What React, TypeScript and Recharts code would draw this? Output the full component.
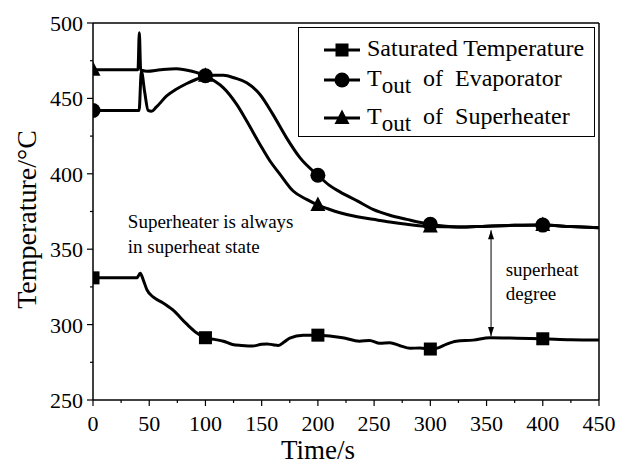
import React from "react";
import {
  LineChart,
  Line,
  XAxis,
  YAxis,
  Legend,
  ReferenceLine,
  ReferenceDot,
  Label,
} from "recharts";

const FONT = '"Liberation Serif", "Times New Roman", serif';

// time axis (s) and readings (°C) for each curve
const satTime = [0, 10, 20, 30, 39, 42, 45, 48, 54, 62, 71, 83, 92, 100, 108, 116, 124, 132, 142, 150, 155, 160, 165, 170, 175, 187, 200, 212, 222, 237, 246, 255, 264, 273, 282, 291, 300, 307, 314, 323, 338, 353, 377, 400, 425, 450];
const satTemp = [331, 331, 331, 331, 331, 334, 329, 323, 318, 314.5, 309.7, 300.6, 294.6, 291.3, 290.2, 289, 286.8, 286.2, 285.8, 287, 287.2, 286.6, 286.2, 288.5, 291, 292.9, 293, 292.3, 291.3, 289, 289.5, 287.6, 288, 286, 284.3, 284.5, 283.8, 284.6, 286.9, 289, 289.7, 291.3, 291, 290.6, 290, 289.8];

const evapTime = [0, 10, 20, 30, 41, 43, 46, 49, 52, 56, 65.5, 74, 83, 92, 100, 108, 116, 126, 136.7, 148.5, 160, 172, 184, 200, 210, 219.6, 235, 249, 264, 279, 300, 325, 350, 375, 400, 425, 450];
const evapTemp = [442, 442, 442, 442, 442, 468, 454, 442, 441.5, 444, 451.6, 456, 459.7, 462.7, 465, 465.4, 465.3, 463.5, 460.4, 452.6, 439.4, 424, 410.7, 399, 392.5, 388, 382, 376.4, 372.5, 369.8, 366.5, 364.7, 365.3, 365.8, 366, 365, 364.3];

const supTime = [0, 10, 20, 30, 40, 41.2, 42.4, 44, 48, 60, 74, 88, 100, 108, 116, 127.8, 136.7, 148.5, 157.4, 166, 178, 190, 200, 210, 219.6, 235, 249, 264, 279, 300, 325, 350, 375, 400, 425, 450];
const supTemp = [469, 469, 469, 469, 469, 493.5, 469, 468.5, 468, 469, 469.7, 468, 465, 461.5, 457, 446, 435, 419.5, 408.5, 400, 388.6, 383, 379.3, 376.5, 374.2, 371.5, 369.8, 368, 366.5, 365, 364.7, 365.3, 365.8, 366, 365, 364.3];

const markerTimes = [0, 100, 200, 300, 400];
const xTicks = [0, 25, 50, 75, 100, 125, 150, 175, 200, 225, 250, 275, 300, 325, 350, 375, 400, 425, 450];
const yTicks = [250, 275, 300, 325, 350, 375, 400, 425, 450, 475, 500];

const seriesNames = ["Saturated Temperature", "of  Evaporator", "of  Superheater"];

const toRows = (ts: number[], vs: number[]) => ts.map((t, i) => ({ t, v: vs[i] }));
const satData = toRows(satTime, satTemp);
const evapData = toRows(evapTime, evapTemp);
const supData = toRows(supTime, supTemp);

// superheat degree arrow
const arrowAt = 354;
const arrowTop = 362.6;
const arrowBottom = 292.4;

function marker(kind: string, cx: number, cy: number, key?: any) {
  if (kind === "square")
    return <rect key={key} x={cx - 6.5} y={cy - 6.5} width={13} height={13} fill="#000" />;
  if (kind === "circle") return <circle key={key} cx={cx} cy={cy} r={7.5} fill="#000" />;
  return (
    <path
      key={key}
      d={`M${cx},${cy - 8.5} L${cx + 7.5},${cy + 6} L${cx - 7.5},${cy + 6} Z`}
      fill="#000"
    />
  );
}

const makeDot = (kind: string) => (props: any) => {
  const { cx, cy, payload, index } = props;
  if (!markerTimes.includes(payload.t) || cx == null) return <g key={index} />;
  return marker(kind, cx, cy, index);
};

function XTick({ x, y, payload }: any) {
  const major = payload.value % 50 === 0;
  return (
    <g>
      <line x1={x} y1={y} x2={x} y2={y + (major ? 6 : 3)} stroke="#000" strokeWidth={1.2} />
      {major && (
        <text x={x} y={y + 31} textAnchor="middle" fontSize={22} fontFamily={FONT} fill="#000">
          {payload.value}
        </text>
      )}
    </g>
  );
}

function YTick({ x, y, payload }: any) {
  const major = payload.value % 50 === 0;
  return (
    <g>
      <line x1={x - (major ? 6 : 3)} y1={y} x2={x} y2={y} stroke="#000" strokeWidth={1.2} />
      {major && (
        <text x={x - 10} y={y + 8} textAnchor="end" fontSize={22} fontFamily={FONT} fill="#000">
          {payload.value}
        </text>
      )}
    </g>
  );
}

function LegendBox() {
  const kinds = ["square", "circle", "triangle"];
  const rows = [23, 53, 91];
  return (
    <svg width={298} height={111} style={{ display: "block" }}>
      <rect x={0.5} y={0.5} width={296} height={109} fill="#fff" stroke="#000" strokeWidth={1} />
      {rows.map((cy, i) => (
        <g key={i}>
          <line x1={26} y1={cy} x2={62} y2={cy} stroke="#000" strokeWidth={3} />
          {marker(kinds[i], 44, cy)}
          {i === 0 ? (
            <text x={69} y={cy + 6} fontSize={24} fontFamily={FONT} fill="#000">
              {seriesNames[0]}
            </text>
          ) : (
            <text x={69} y={cy + 6} fontSize={24} fontFamily={FONT} fill="#000" style={{ whiteSpace: "pre" }}>
              T
              <tspan fontSize={23} dy={7}>out</tspan>
              <tspan dy={-7}>{"  " + seriesNames[i]}</tspan>
            </text>
          )}
        </g>
      ))}
    </svg>
  );
}

const textShape = (lines: string[]) => (p: any) => (
  <text x={p.cx} y={p.cy} fontSize={19} fontFamily={FONT} fill="#000">
    {lines[0]}
  </text>
);

const arrowHead = (up: boolean) => (p: any) => {
  const { cx, cy } = p;
  const d = up
    ? `M${cx},${cy} L${cx + 3},${cy + 9} L${cx - 3},${cy + 9} Z`
    : `M${cx},${cy} L${cx + 3},${cy - 9} L${cx - 3},${cy - 9} Z`;
  return <path d={d} fill="#000" />;
};

export default function App() {
  return (
    <div style={{ position: "absolute", left: 0, top: 0, width: 621, height: 465, background: "#fff" }}>
      <LineChart width={621} height={465} margin={{ top: 23, right: 22, bottom: 0, left: 0 }}>
        <XAxis
          type="number"
          dataKey="t"
          domain={[0, 450]}
          ticks={xTicks}
          interval={0}
          allowDataOverflow
          height={65}
          tickSize={0}
          tickMargin={0}
          tickLine={false}
          tick={<XTick />}
          axisLine={{ stroke: "#000", strokeWidth: 1.5 }}
        >
          <Label
            content={({ viewBox }: any) => (
              <text
                x={viewBox.x + viewBox.width / 2 - 28}
                y={viewBox.y + 59}
                textAnchor="middle"
                fontSize={27}
                fontFamily={FONT}
                fill="#000"
              >
                Time/s
              </text>
            )}
          />
        </XAxis>
        <YAxis
          type="number"
          domain={[250, 500]}
          ticks={yTicks}
          interval={0}
          allowDataOverflow
          width={93}
          tickSize={0}
          tickMargin={0}
          tickLine={false}
          tick={<YTick />}
          axisLine={{ stroke: "#000", strokeWidth: 1.5 }}
        >
          <Label
            content={({ viewBox }: any) => {
              const cx = viewBox.x + 36;
              const cy = viewBox.y + viewBox.height / 2 + 8;
              return (
                <text
                  x={cx}
                  y={cy}
                  transform={`rotate(-90, ${cx}, ${cy})`}
                  textAnchor="middle"
                  fontSize={28}
                  fontFamily={FONT}
                  fill="#000"
                >
                  Temperature/°C
                </text>
              );
            }}
          />
        </YAxis>
        <ReferenceLine y={500} stroke="#000" strokeWidth={1.5} />
        <ReferenceLine x={450} stroke="#000" strokeWidth={1.5} />

        <Line
          data={satData}
          dataKey="v"
          name={seriesNames[0]}
          type="monotone"
          stroke="#000"
          strokeWidth={3}
          dot={makeDot("square")}
          activeDot={false}
          isAnimationActive={false}
        />
        <Line
          data={evapData}
          dataKey="v"
          name={seriesNames[1]}
          type="monotone"
          stroke="#000"
          strokeWidth={3}
          dot={makeDot("circle")}
          activeDot={false}
          isAnimationActive={false}
        />
        <Line
          data={supData}
          dataKey="v"
          name={seriesNames[2]}
          type="monotone"
          stroke="#000"
          strokeWidth={3}
          dot={makeDot("triangle")}
          activeDot={false}
          isAnimationActive={false}
        />

        <ReferenceLine
          segment={[
            { x: arrowAt, y: arrowTop },
            { x: arrowAt, y: arrowBottom },
          ]}
          stroke="#000"
          strokeWidth={1}
        />
        <ReferenceDot x={arrowAt} y={arrowTop} r={0} shape={arrowHead(true)} />
        <ReferenceDot x={arrowAt} y={arrowBottom} r={0} shape={arrowHead(false)} />

        <ReferenceDot x={31} y={364} r={0} shape={textShape(["Superheater is always"])} />
        <ReferenceDot x={31} y={347.4} r={0} shape={textShape(["in superheat state"])} />
        <ReferenceDot x={367} y={332} r={0} shape={textShape(["superheat"])} />
        <ReferenceDot x={367} y={316} r={0} shape={textShape(["degree"])} />

        <Legend
          layout="vertical"
          align="center"
          verticalAlign="middle"
          wrapperStyle={{ left: 298, top: 27, width: 298, height: 111 }}
          content={() => <LegendBox />}
        />
      </LineChart>
    </div>
  );
}
